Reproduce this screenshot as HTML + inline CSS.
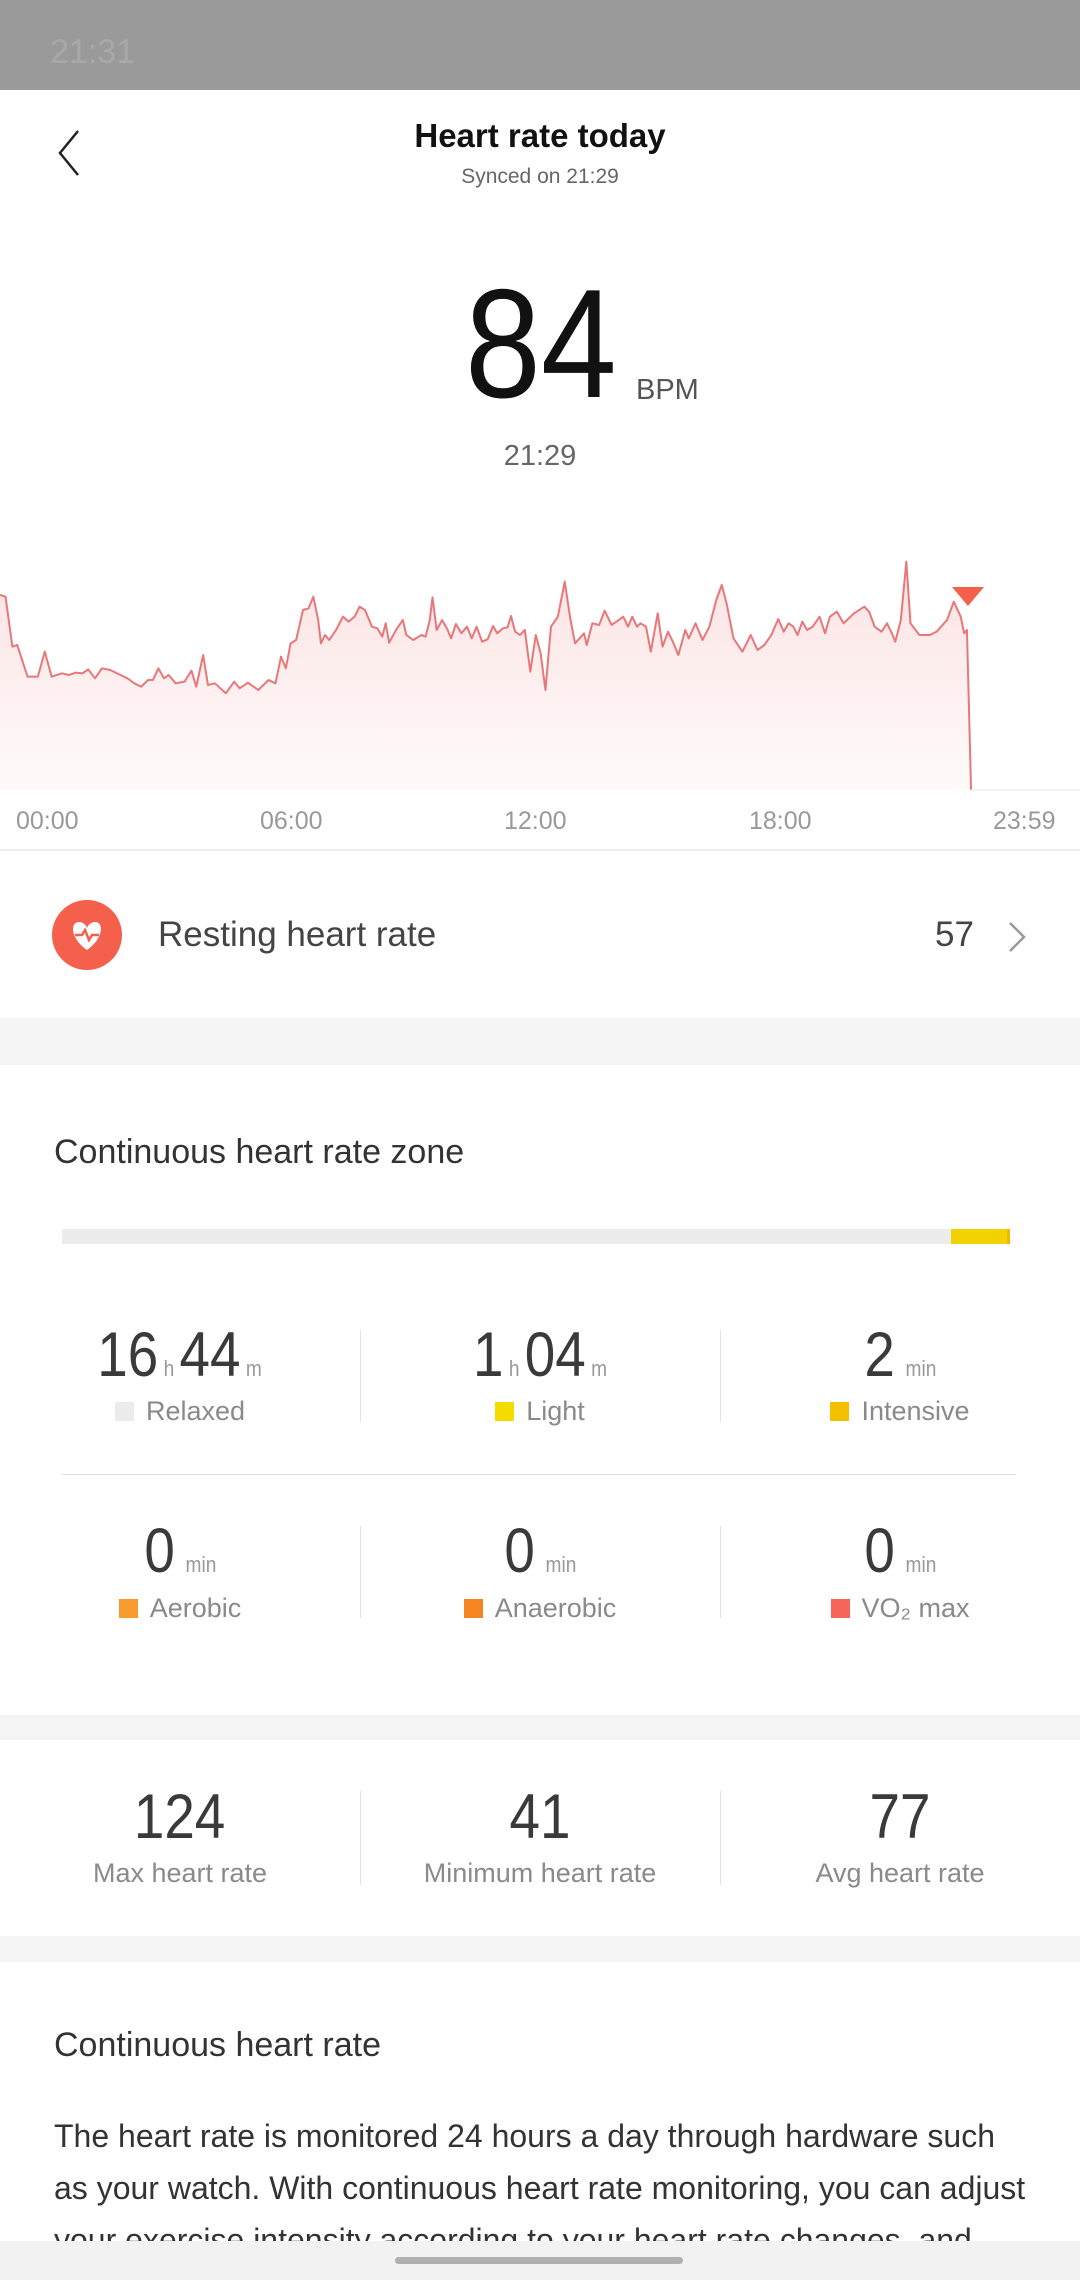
<!DOCTYPE html>
<html style="width:1080px;height:2280px;overflow:hidden"><head><meta charset="utf-8"><style>
*{margin:0;padding:0;box-sizing:border-box}
body{width:1080px;height:2280px;position:relative;overflow:hidden;background:#fff;font-family:"Liberation Sans",sans-serif;color:#333}
.a{position:absolute;white-space:nowrap}
.c{text-align:center}
.band{position:absolute;left:0;width:1080px;background:#f5f5f5}
.num{color:#3a3a3a;font-size:63px;line-height:60px}
.u{font-size:22px;color:#999}
.lab{font-size:27px;color:#8a8a8a;line-height:30px}
.sq{display:inline-block;width:19px;height:19px;margin-right:12px;vertical-align:-1px}
.vd{position:absolute;width:1px;background:#e2e2e2}
.cell{position:absolute;width:360px;text-align:center}
.nw{display:inline-block;transform:scaleX(0.87);transform-origin:center}
</style></head><body>
<div class="a" style="left:0;top:0;width:1080px;height:90px;background:#9a9a9a"></div>
<div class="a" style="left:50px;top:33px;font-size:34px;color:#a8a8a8">21:31</div>
<svg class="a" style="left:54px;top:128px" width="30" height="50"><path d="M24 3 L6 25 L24 47" fill="none" stroke="#222" stroke-width="2.5"/></svg>
<div class="a c" style="left:0;width:1080px;top:117px;font-size:33px;font-weight:bold;color:#111">Heart rate today</div>
<div class="a c" style="left:0;width:1080px;top:165px;font-size:21px;color:#666">Synced on 21:29</div>
<div class="a" style="left:465px;top:264px;font-size:155px;line-height:160px;color:#111;transform:scaleX(0.88);transform-origin:left">84</div>
<div class="a" style="left:636px;top:374px;font-size:29px;color:#555">BPM</div>
<div class="a c" style="left:0;width:1080px;top:440px;font-size:29px;color:#666">21:29</div>
<svg class="a" style="left:0;top:0" width="1080" height="860">
<defs><linearGradient id="g" x1="0" y1="0" x2="0" y2="1"><stop offset="0" stop-color="#f07070" stop-opacity="0.2"/><stop offset="1" stop-color="#f07070" stop-opacity="0.03"/></linearGradient></defs>
<g transform="translate(0,520) scale(0.6887,0.3333)">
<path d="M0,225 L8,230 18,380 25,375 40,470 55,470 65,395 75,470 90,460 100,465 110,458 120,460 128,448 138,475 148,445 160,450 175,465 185,475 195,490 205,500 215,480 222,480 230,445 238,475 245,465 255,490 268,485 278,452 285,500 295,405 302,495 312,490 328,520 340,485 348,505 360,488 375,510 390,480 400,490 408,410 415,445 422,370 430,360 440,270 448,265 455,230 462,300 466,370 472,345 478,360 488,330 498,290 506,305 515,290 522,260 530,270 540,320 548,325 555,350 560,310 565,368 575,330 585,300 590,345 600,360 612,345 618,350 624,300 628,232 634,330 642,300 650,330 655,355 662,312 670,340 678,320 685,355 692,320 700,365 708,358 716,318 722,340 730,325 737,322 742,288 748,335 755,345 762,330 770,455 778,345 785,400 792,510 800,320 810,290 820,185 828,295 835,370 848,340 852,375 860,310 870,315 878,272 888,315 895,305 905,290 912,320 918,290 925,320 930,310 938,320 945,395 955,280 962,380 970,335 978,370 985,405 995,330 1000,355 1010,310 1020,360 1030,320 1040,240 1048,195 1055,250 1065,355 1078,395 1090,345 1100,390 1110,375 1120,345 1130,297 1138,335 1145,310 1152,320 1158,345 1165,305 1172,330 1180,320 1190,290 1198,340 1205,290 1215,275 1225,310 1240,280 1255,260 1262,275 1270,320 1280,335 1288,310 1295,340 1300,365 1308,300 1316,125 1322,310 1335,345 1350,345 1360,335 1375,300 1385,245 1395,290 1400,340 1404,330 1410,810" fill="none" stroke="#e8777a" stroke-width="2" vector-effect="non-scaling-stroke" stroke-linejoin="round"/>
<path d="M0,225 L8,230 18,380 25,375 40,470 55,470 65,395 75,470 90,460 100,465 110,458 120,460 128,448 138,475 148,445 160,450 175,465 185,475 195,490 205,500 215,480 222,480 230,445 238,475 245,465 255,490 268,485 278,452 285,500 295,405 302,495 312,490 328,520 340,485 348,505 360,488 375,510 390,480 400,490 408,410 415,445 422,370 430,360 440,270 448,265 455,230 462,300 466,370 472,345 478,360 488,330 498,290 506,305 515,290 522,260 530,270 540,320 548,325 555,350 560,310 565,368 575,330 585,300 590,345 600,360 612,345 618,350 624,300 628,232 634,330 642,300 650,330 655,355 662,312 670,340 678,320 685,355 692,320 700,365 708,358 716,318 722,340 730,325 737,322 742,288 748,335 755,345 762,330 770,455 778,345 785,400 792,510 800,320 810,290 820,185 828,295 835,370 848,340 852,375 860,310 870,315 878,272 888,315 895,305 905,290 912,320 918,290 925,320 930,310 938,320 945,395 955,280 962,380 970,335 978,370 985,405 995,330 1000,355 1010,310 1020,360 1030,320 1040,240 1048,195 1055,250 1065,355 1078,395 1090,345 1100,390 1110,375 1120,345 1130,297 1138,335 1145,310 1152,320 1158,345 1165,305 1172,330 1180,320 1190,290 1198,340 1205,290 1215,275 1225,310 1240,280 1255,260 1262,275 1270,320 1280,335 1288,310 1295,340 1300,365 1308,300 1316,125 1322,310 1335,345 1350,345 1360,335 1375,300 1385,245 1395,290 1400,340 1404,330 1410,810 L0,810 Z" fill="url(#g)"/>
</g>
<line x1="971" y1="790" x2="1080" y2="790" stroke="#eee" stroke-width="1.5"/>
<path d="M952,587 L984,587 L968,606 Z" fill="#f4604c"/>
<line x1="0" y1="850" x2="1080" y2="850" stroke="#eee" stroke-width="2"/>
</svg>
<div class="a" style="left:16px;top:807px;font-size:25px;color:#999">00:00</div>
<div class="a" style="left:260px;top:807px;font-size:25px;color:#999">06:00</div>
<div class="a" style="left:504px;top:807px;font-size:25px;color:#999">12:00</div>
<div class="a" style="left:749px;top:807px;font-size:25px;color:#999">18:00</div>
<div class="a" style="left:993px;top:807px;font-size:25px;color:#999">23:59</div>
<svg class="a" style="left:52px;top:900px" width="70" height="70"><circle cx="35" cy="35" r="35" fill="#f4604c"/><path d="M35 50 C18 38 18 22 27 22 C31 22 34 25 35 28 C36 25 39 22 43 22 C52 22 52 38 35 50 Z" fill="#fff"/><path d="M23 35 L30 35 L33 30 L37 40 L40 35 L47 35" fill="none" stroke="#f4604c" stroke-width="2.5"/></svg>
<div class="a" style="left:158px;top:915px;font-size:35px;color:#444">Resting heart rate</div>
<div class="a" style="left:935px;top:915px;font-size:35px;color:#444">57</div>
<svg class="a" style="left:1006px;top:920px" width="24" height="34"><path d="M4 3 L18 17 L4 31" fill="none" stroke="#999" stroke-width="2.5"/></svg>
<div class="band" style="top:1018px;height:47px"></div>
<div class="a" style="left:54px;top:1133px;font-size:34px;color:#333">Continuous heart rate zone</div>
<div class="a" style="left:62px;top:1229px;width:948px;height:15px;background:#ececec"></div>
<div class="a" style="left:951px;top:1229px;width:56px;height:15px;background:#f2d200"></div>
<div class="a" style="left:1007px;top:1229px;width:3px;height:15px;background:#f2b800"></div>
<div class="vd" style="left:360px;top:1330px;height:92px"></div>
<div class="vd" style="left:720px;top:1330px;height:92px"></div>
<div class="a" style="left:62px;top:1474px;width:954px;height:1px;background:#e0e0e0"></div>
<div class="vd" style="left:360px;top:1526px;height:92px"></div>
<div class="vd" style="left:720px;top:1526px;height:92px"></div>
<div class="cell" style="left:0;top:1325px"><span class="nw"><span class="num">16</span><span class="u"> h </span><span class="num">44</span><span class="u"> m</span></span></div>
<div class="cell" style="left:360px;top:1325px"><span class="nw"><span class="num">1</span><span class="u"> h </span><span class="num">04</span><span class="u"> m</span></span></div>
<div class="cell" style="left:720px;top:1325px"><span class="nw"><span class="num">2</span><span class="u">&nbsp;&nbsp;min</span></span></div>
<div class="cell lab" style="left:0;top:1396px"><span class="sq" style="background:#ececec"></span>Relaxed</div>
<div class="cell lab" style="left:360px;top:1396px"><span class="sq" style="background:#f5dc00"></span>Light</div>
<div class="cell lab" style="left:720px;top:1396px"><span class="sq" style="background:#f5c000"></span>Intensive</div>
<div class="cell" style="left:0;top:1521px"><span class="nw"><span class="num">0</span><span class="u">&nbsp;&nbsp;min</span></span></div>
<div class="cell" style="left:360px;top:1521px"><span class="nw"><span class="num">0</span><span class="u">&nbsp;&nbsp;min</span></span></div>
<div class="cell" style="left:720px;top:1521px"><span class="nw"><span class="num">0</span><span class="u">&nbsp;&nbsp;min</span></span></div>
<div class="cell lab" style="left:0;top:1593px"><span class="sq" style="background:#f79a30"></span>Aerobic</div>
<div class="cell lab" style="left:360px;top:1593px"><span class="sq" style="background:#f58520"></span>Anaerobic</div>
<div class="cell lab" style="left:720px;top:1593px"><span class="sq" style="background:#f56658"></span>VO₂ max</div>
<div class="band" style="top:1715px;height:25px"></div>
<div class="vd" style="left:360px;top:1791px;height:94px"></div>
<div class="vd" style="left:720px;top:1791px;height:94px"></div>
<div class="cell" style="left:0;top:1787px"><span class="nw"><span class="num">124</span></span></div>
<div class="cell" style="left:360px;top:1787px"><span class="nw"><span class="num">41</span></span></div>
<div class="cell" style="left:720px;top:1787px"><span class="nw"><span class="num">77</span></span></div>
<div class="cell lab" style="left:0;top:1858px">Max heart rate</div>
<div class="cell lab" style="left:360px;top:1858px">Minimum heart rate</div>
<div class="cell lab" style="left:720px;top:1858px">Avg heart rate</div>
<div class="band" style="top:1936px;height:26px"></div>
<div class="a" style="left:54px;top:2026px;font-size:34px;color:#333">Continuous heart rate</div>
<div class="a" style="left:54px;top:2110px;width:1026px;height:131px;overflow:hidden;font-size:32px;line-height:52px;color:#333">The heart rate is monitored 24 hours a day through hardware such<br>as your watch. With continuous heart rate monitoring, you can adjust<br>your exercise intensity according to your heart rate changes, and</div>
<div class="a" style="left:0;top:2241px;width:1080px;height:39px;background:#f2f2f2"></div>
<div class="a" style="left:395px;top:2257px;width:288px;height:7px;border-radius:4px;background:#b0b0b0"></div>
</body></html>
